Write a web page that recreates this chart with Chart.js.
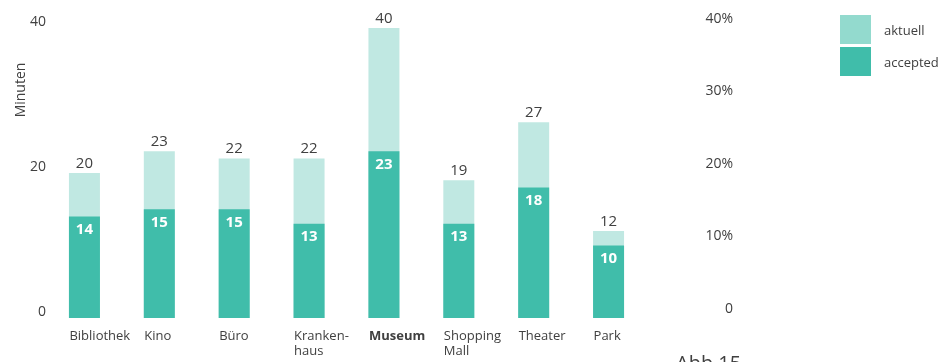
<!DOCTYPE html>
<html>
<head>
<meta charset="utf-8">
<script src="https://cdn.jsdelivr.net/npm/chart.js@4/dist/chart.umd.min.js"></script>
<style>
  html, body { margin: 0; padding: 0; background: #fff; }
  #wrap { position: relative; width: 951px; height: 362px; overflow: hidden; font-family: "Open Sans", sans-serif; }
  #legend { position: absolute; left: 840px; top: 15px; }
  .lg-row { display: flex; align-items: center; height: 29px; margin-bottom: 3px; }
  .lg-box { width: 31px; height: 29px; margin-right: 13px; }
  .lg-txt { font-size: 13px; color: #404040; }
</style>
</head>
<body>
<div id="wrap">
  <canvas id="c" width="951" height="362"></canvas>
  <div id="legend"></div>
</div>
<script>
// Minuten pro Ort: gesamt (aktuell) und davon akzeptiert
var orte = ["Bibliothek", "Kino", "Büro", ["Kranken-", "haus"], "Museum", ["Shopping", "Mall"], "Theater", "Park"];
var aktuell = [20, 23, 22, 22, 40, 19, 27, 12];
var accepted = [14, 15, 15, 13, 23, 13, 18, 10];
var leftTicks = [0, 20, 40];
var rightTicks = [0, 10, 20, 30, 40];

var colLight = "#c0e8e2", colLegendLight = "#93dace", colDark = "#40bdaa", txt = "#404040";
var fam = "'Open Sans', sans-serif";

// Legende
var lg = document.getElementById("legend");
[["aktuell", colLegendLight], ["accepted", colDark]].forEach(function (it) {
  var row = document.createElement("div");
  row.className = "lg-row";
  row.innerHTML = '<div class="lg-box" style="background:' + it[1] + '"></div><span class="lg-txt">' + it[0] + "</span>";
  lg.appendChild(row);
});

var valueLabels = {
  id: "valueLabels",
  afterDatasetsDraw: function (chart) {
    var ctx = chart.ctx;
    var mTot = chart.getDatasetMeta(0), mAcc = chart.getDatasetMeta(1);
    ctx.save();
    ctx.textAlign = "center";
    mTot.data.forEach(function (bar, i) {
      ctx.fillStyle = txt;
      ctx.font = "15px " + fam;
      ctx.textBaseline = "bottom";
      ctx.fillText(String(aktuell[i]), bar.x, bar.y - 2);
    });
    mAcc.data.forEach(function (bar, i) {
      ctx.fillStyle = "#fff";
      ctx.font = "bold 15px " + fam;
      ctx.textBaseline = "middle";
      ctx.fillText(String(accepted[i]), bar.x, bar.y + 13);
    });
    // Achsentitel und Abbildungsnummer
    ctx.fillStyle = txt;
    ctx.font = "14px " + fam;
    ctx.translate(21, 90);
    ctx.rotate(-Math.PI / 2);
    ctx.textBaseline = "middle";
    ctx.fillText("Minuten", 0, 0);
    ctx.restore();
    ctx.save();
    ctx.fillStyle = txt;
    ctx.font = "20px " + fam;
    ctx.textBaseline = "alphabetic";
    ctx.textAlign = "left";
    ctx.fillText("Abb.15", 676, 370);
    ctx.restore();
  }
};

new Chart(document.getElementById("c"), {
  type: "bar",
  data: {
    labels: orte,
    datasets: [
      { label: "aktuell", data: aktuell, backgroundColor: colLight, grouped: false, order: 1, barPercentage: 0.414, categoryPercentage: 1 },
      { label: "accepted", data: accepted, backgroundColor: colDark, grouped: false, order: 0, barPercentage: 0.414, categoryPercentage: 1 }
    ]
  },
  options: {
    responsive: false,
    animation: false,
    layout: { padding: { left: 0, right: 218, top: 28, bottom: 0 } },
    plugins: { legend: { display: false }, tooltip: { enabled: false } },
    scales: {
      x: {
        grid: { display: false, drawTicks: false },
        border: { display: false },
        afterFit: function (s) { s.height = 44; s.paddingLeft = 0; s.paddingRight = 0; },
        ticks: {
          align: "start", labelOffset: -15, padding: 10, color: txt, maxRotation: 0, autoSkip: false,
          font: function (c) { return { family: fam, size: 13, weight: c.index === 4 ? "bold" : "normal" }; }
        }
      },
      y: {
        min: 0, max: 40,
        afterBuildTicks: function (s) { s.ticks = leftTicks.map(function (v) { return { value: v }; }); },
        afterFit: function (s) { s.width = 47; s.paddingTop = 0; s.paddingBottom = 0; },
        grid: { display: false, drawTicks: false },
        border: { display: false },
        ticks: { padding: 1, labelOffset: -6, color: txt, font: { family: fam, size: 14 } }
      },
      y2: {
        position: "right", min: 0, max: 40,
        afterBuildTicks: function (s) { s.ticks = rightTicks.map(function (v) { return { value: v }; }); },
        afterFit: function (s) { s.width = 87; s.paddingTop = 0; s.paddingBottom = 0; },
        grid: { display: false, drawTicks: false },
        border: { display: false },
        ticks: {
          crossAlign: "far", padding: 56, labelOffset: -9, color: txt, font: { family: fam, size: 14 },
          callback: function (v) { return v === 0 ? "0" : v + "%"; }
        }
      }
    }
  },
  plugins: [valueLabels]
});
</script>
</body>
</html>
